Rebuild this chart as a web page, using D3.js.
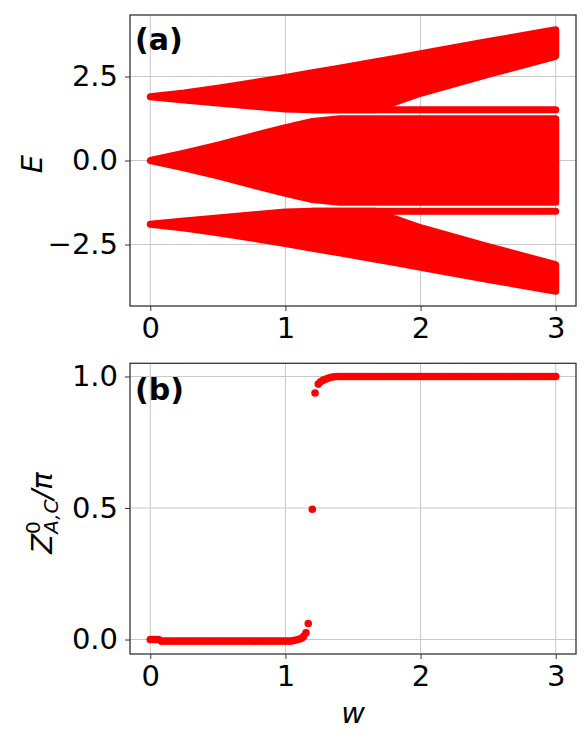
<!DOCTYPE html>
<html>
<head>
<meta charset="utf-8">
<script src="https://cdn.jsdelivr.net/npm/d3@7"></script>
<style>
  body { margin: 0; background: #fff; }
  text { font-family: "DejaVu Sans", sans-serif; fill: #000; }
</style>
</head>
<body>
<svg width="585" height="739"></svg>
<script>
// panel (a): band envelopes of the spectrum E(w)
var bandW      = [0, 0.25, 0.5, 1.0, 1.2, 1.4, 1.67, 1.8, 2.0, 2.5, 3.0];
var upperTop   = [1.9, 2.01, 2.15, 2.47, 2.61, 2.75, 2.94, 3.03, 3.18, 3.54, 3.89];
var upperBot   = [1.9, 1.80, 1.71, 1.53, 1.51, 1.51, 1.51, 1.72, 2.0, 2.56, 3.1];
var middleTop  = [0, 0.22, 0.46, 0.98, 1.16, 1.24, 1.24, 1.24, 1.24, 1.24, 1.24];
var middleBot  = [0, -0.22, -0.46, -0.98, -1.16, -1.24, -1.24, -1.24, -1.24, -1.24, -1.24];
var lowerTop   = [-1.9, -1.80, -1.71, -1.53, -1.51, -1.51, -1.51, -1.72, -2.0, -2.56, -3.1];
var lowerBot   = [-1.9, -2.01, -2.15, -2.47, -2.61, -2.75, -2.94, -3.03, -3.18, -3.54, -3.89];
// flat levels split off from the outer bands
var levelW     = [1.2, 3.0];
var levelE     = [1.51, -1.51];

// panel (b): Z0_AC / pi against w
var wLow = [0, 0.02, 0.04, 0.06, 0.08, 0.10, 0.12, 0.14, 0.16, 0.18, 0.20, 0.22, 0.24, 0.26, 0.28,
            0.30, 0.32, 0.34, 0.36, 0.38, 0.40, 0.42, 0.44, 0.46, 0.48, 0.50, 0.52, 0.54, 0.56, 0.58,
            0.60, 0.62, 0.64, 0.66, 0.68, 0.70, 0.72, 0.74, 0.76, 0.78, 0.80, 0.82, 0.84, 0.86, 0.88,
            0.90, 0.92, 0.94, 0.96, 0.98, 1.00, 1.02, 1.04];
var zLow = [0, 0, 0, 0,
            -0.006, -0.006, -0.006, -0.006, -0.006, -0.006, -0.006, -0.006, -0.006, -0.006,
            -0.006, -0.006, -0.006, -0.006, -0.006, -0.006, -0.006, -0.006, -0.006, -0.006,
            -0.006, -0.006, -0.006, -0.006, -0.006, -0.006, -0.006, -0.006, -0.006, -0.006,
            -0.006, -0.006, -0.006, -0.006, -0.006, -0.006, -0.006, -0.006, -0.006, -0.006,
            -0.006, -0.006, -0.006, -0.006, -0.006, -0.006, -0.006, -0.006, -0.006];
var wJump = [1.06, 1.08, 1.10, 1.12, 1.135, 1.152, 1.169, 1.199, 1.219, 1.243, 1.26, 1.28, 1.30, 1.32, 1.34, 1.36];
var zJump = [-0.004, -0.002, 0.001, 0.005, 0.012, 0.026, 0.061, 0.495, 0.937, 0.971, 0.98, 0.986, 0.99, 0.994, 0.997, 0.999];
var wHigh = [1.38, 1.40, 1.42, 1.44, 1.46, 1.48, 1.50, 1.52, 1.54, 1.56, 1.58, 1.60, 1.62, 1.64, 1.66,
             1.68, 1.70, 1.72, 1.74, 1.76, 1.78, 1.80, 1.82, 1.84, 1.86, 1.88, 1.90, 1.92, 1.94, 1.96,
             1.98, 2.00, 2.02, 2.04, 2.06, 2.08, 2.10, 2.12, 2.14, 2.16, 2.18, 2.20, 2.22, 2.24, 2.26,
             2.28, 2.30, 2.32, 2.34, 2.36, 2.38, 2.40, 2.42, 2.44, 2.46, 2.48, 2.50, 2.52, 2.54, 2.56,
             2.58, 2.60, 2.62, 2.64, 2.66, 2.68, 2.70, 2.72, 2.74, 2.76, 2.78, 2.80, 2.82, 2.84, 2.86,
             2.88, 2.90, 2.92, 2.94, 2.96, 2.98, 3.00];
var zHigh = [1, 1, 1, 1, 1, 1, 1, 1, 1, 1, 1, 1, 1, 1, 1,
             1, 1, 1, 1, 1, 1, 1, 1, 1, 1, 1, 1, 1, 1, 1,
             1, 1, 1, 1, 1, 1, 1, 1, 1, 1, 1, 1, 1, 1, 1,
             1, 1, 1, 1, 1, 1, 1, 1, 1, 1, 1, 1, 1, 1, 1,
             1, 1, 1, 1, 1, 1, 1, 1, 1, 1, 1, 1, 1, 1, 1,
             1, 1, 1, 1, 1, 1, 1];

var xTicks  = [0, 1, 2, 3];
var eTicks  = [-2.5, 0, 2.5];
var zTicks  = [0, 0.5, 1.0];

var chart = {

    red : "#ff0000",
    left : 130,
    right : 576,

    show : function() {
        var svg = d3.select("svg");
        var x = d3.scaleLinear().domain([-0.15, 3.15]).range([chart.left, chart.right]);

        // ---- panel (a)
        var yE = d3.scaleLinear().domain([-4.33, 4.33]).range([306, 15]);
        var gA = svg.append("g").attr("id", "panelA");
        chart.frame(gA, x, yE, eTicks, function(d) { return d3.format(".1f")(d).replace("-", "\u2212"); });

        var bands = [[upperBot, upperTop], [middleBot, middleTop], [lowerBot, lowerTop]];
        var area = d3.area()
            .x(function(d) { return x(d.w); })
            .y0(function(d) { return yE(d.lo); })
            .y1(function(d) { return yE(d.hi); });

        gA.selectAll("path.band")
            .data(bands)
            .enter()
            .append("path")
            .attr("class", "band")
            .attr("d", function(b) {
                return area(bandW.map(function(w, i) { return {w: w, lo: b[0][i], hi: b[1][i]}; }));
            })
            .style("fill", chart.red)
            .style("stroke", chart.red)
            .style("stroke-width", 7)
            .style("stroke-linejoin", "round");

        var line = d3.line()
            .x(function(d) { return x(d[0]); })
            .y(function(d) { return yE(d[1]); });

        gA.selectAll("path.level")
            .data(levelE)
            .enter()
            .append("path")
            .attr("class", "level")
            .attr("d", function(e) { return line(levelW.map(function(w) { return [w, e]; })); })
            .style("fill", "none")
            .style("stroke", chart.red)
            .style("stroke-width", 7)
            .style("stroke-linecap", "round");

        chart.border(gA, 15, 306);

        gA.append("text")
            .attr("x", 135).attr("y", 50)
            .style("font-size", "30px").style("font-weight", "bold")
            .text("(a)");

        gA.append("text")
            .attr("transform", "translate(42,164) rotate(-90)")
            .style("text-anchor", "middle")
            .style("font-size", "29px").style("font-style", "italic")
            .text("E");

        // ---- panel (b)
        var yZ = d3.scaleLinear().domain([-0.055, 1.05]).range([654, 363.3]);
        var gB = svg.append("g").attr("id", "panelB");
        chart.frame(gB, x, yZ, zTicks, d3.format(".1f"));

        var wAll = wLow.concat(wJump, wHigh);
        var zAll = zLow.concat(zJump, zHigh);

        gB.selectAll("circle")
            .data(wAll)
            .enter()
            .append("circle")
            .attr("cx", function(d) { return x(d); })
            .attr("cy", function(d, i) { return yZ(zAll[i]); })
            .attr("r", 3.8)
            .style("fill", chart.red);

        chart.border(gB, 363.3, 654);

        gB.append("text")
            .attr("x", 135).attr("y", 400)
            .style("font-size", "30px").style("font-weight", "bold")
            .text("(b)");

        var zl = gB.append("text")
            .attr("transform", "translate(52,513) rotate(-90)")
            .style("text-anchor", "middle")
            .style("font-size", "29px");
        zl.append("tspan").style("font-style", "italic").text("Z");
        zl.append("tspan").attr("dy", -12).style("font-size", "20px").text("0");
        zl.append("tspan").attr("dx", -12.7).attr("dy", 18).style("font-size", "20px").style("font-style", "italic").text("A,C");
        zl.append("tspan").attr("dy", -6).style("font-style", "italic").text("/\u03c0");

        gB.append("text")
            .attr("x", 353).attr("y", 723)
            .style("text-anchor", "middle")
            .style("font-size", "29px").style("font-style", "italic")
            .text("w");
    },

    frame : function(g, x, y, yTicks, fmt) {
        var top = y.range()[1], bottom = y.range()[0];

        g.append("g")
            .attr("class", "grid")
            .selectAll("line.gx")
            .data(xTicks)
            .enter()
            .append("line")
            .attr("x1", function(d) { return x(d); })
            .attr("x2", function(d) { return x(d); })
            .attr("y1", top).attr("y2", bottom)
            .style("stroke", "#c8c8c8").style("stroke-width", 1);

        g.append("g")
            .selectAll("line.gy")
            .data(yTicks)
            .enter()
            .append("line")
            .attr("x1", chart.left).attr("x2", chart.right)
            .attr("y1", function(d) { return y(d); })
            .attr("y2", function(d) { return y(d); })
            .style("stroke", "#c8c8c8").style("stroke-width", 1);

        var xAxis = g.append("g")
            .attr("transform", "translate(0," + bottom + ")")
            .call(d3.axisBottom(x).tickValues(xTicks).tickSize(5).tickPadding(6).tickFormat(d3.format("d")));
        var yAxis = g.append("g")
            .attr("transform", "translate(" + chart.left + ",0)")
            .call(d3.axisLeft(y).tickValues(yTicks).tickSize(5).tickPadding(7).tickFormat(fmt));

        [xAxis, yAxis].forEach(function(a) {
            a.select(".domain").remove();
            a.selectAll(".tick line").style("stroke", "#333");
            a.selectAll(".tick text")
                .style("font-family", "DejaVu Sans")
                .style("font-size", "29px")
                .style("fill", "#000");
        });
        xAxis.selectAll(".tick text").attr("dy", "0.74em");
    },

    border : function(g, top, bottom) {
        g.append("rect")
            .attr("x", chart.left).attr("y", top)
            .attr("width", chart.right - chart.left)
            .attr("height", bottom - top)
            .style("fill", "none")
            .style("stroke", "#333")
            .style("stroke-width", 1.3);
    }
}

chart.show();
</script>
</body>
</html>
